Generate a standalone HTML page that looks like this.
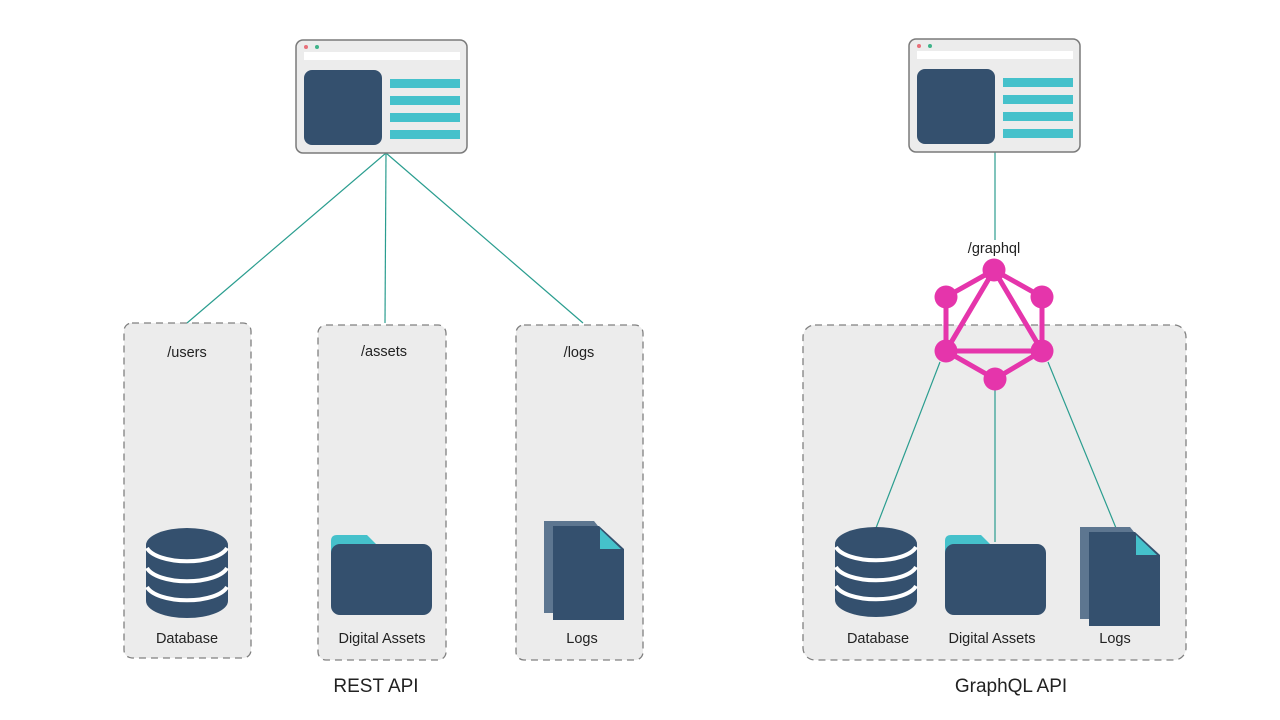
<!DOCTYPE html>
<html><head><meta charset="utf-8"><style>
html,body{margin:0;padding:0;background:#fff;}
svg{display:block;}
text{font-family:"Liberation Sans","DejaVu Sans",sans-serif;fill:#222;}
</style></head><body>
<svg width="1280" height="720" viewBox="0 0 1280 720" xmlns="http://www.w3.org/2000/svg">
<defs>
<g id="win">
  <rect x="0" y="0" width="171" height="113" rx="7" fill="#ececec" stroke="#7a7a7a" stroke-width="1.5"/>
  <circle cx="10" cy="7" r="2" fill="#e8707a"/>
  <circle cx="21" cy="7" r="2" fill="#3fb38a"/>
  <rect x="8" y="12" width="156" height="8" fill="#fff"/>
  <rect x="8" y="30" width="78" height="75" rx="8" fill="#34506e"/>
  <rect x="94" y="39" width="70" height="9" fill="#45c1cb"/>
  <rect x="94" y="56" width="70" height="9" fill="#45c1cb"/>
  <rect x="94" y="73" width="70" height="9" fill="#45c1cb"/>
  <rect x="94" y="90" width="70" height="9" fill="#45c1cb"/>
</g>
<g id="db">
  <path d="M-41,0 V56 A41,17 0 0 0 41,56 V0 Z" fill="#34506e"/>
  <ellipse cx="0" cy="0" rx="41" ry="17" fill="#34506e"/>
  <path d="M-40,3 A41,17 0 0 0 40,3" fill="none" stroke="#fff" stroke-width="4"/>
  <path d="M-40,23 A41,17 0 0 0 40,23" fill="none" stroke="#fff" stroke-width="4"/>
  <path d="M-40,42 A41,17 0 0 0 40,42" fill="none" stroke="#fff" stroke-width="4"/>
</g>
<g id="folder">
  <path d="M0,14 V6 Q0,0 6,0 H36 L46,10 V20 H0 Z" fill="#45c1cb"/>
  <rect x="0" y="9" width="101" height="71" rx="9" fill="#34506e"/>
</g>
<g id="logs">
  <path d="M0,0 H50 L54,5 V92 H0 Z" fill="#5d7690"/>
  <path d="M9,5 H55 L80,28 V99 H9 Z" fill="#34506e"/>
  <path d="M56,8 L77,28 H56 Z" fill="#45c1cb"/>
</g>
</defs>

<rect x="124" y="323" width="127" height="335" rx="8" fill="#ececec" stroke="#808080" stroke-width="1.3" stroke-dasharray="7,5"/>
<rect x="318" y="325" width="128" height="335" rx="8" fill="#ececec" stroke="#808080" stroke-width="1.3" stroke-dasharray="7,5"/>
<rect x="516" y="325" width="127" height="335" rx="8" fill="#ececec" stroke="#808080" stroke-width="1.3" stroke-dasharray="7,5"/>
<rect x="803" y="325" width="383" height="335" rx="12" fill="#ececec" stroke="#808080" stroke-width="1.3" stroke-dasharray="7,5"/>

<g stroke="#2a9d8f" stroke-width="1.2">
  <line x1="386" y1="153" x2="187" y2="323"/>
  <line x1="386" y1="153" x2="385" y2="323"/>
  <line x1="386" y1="153" x2="583" y2="323"/>
  <line x1="995" y1="152" x2="995" y2="240"/>
  <line x1="940" y1="362" x2="876" y2="528"/>
  <line x1="995" y1="385" x2="995" y2="542"/>
  <line x1="1048" y1="362" x2="1116" y2="528"/>
</g>

<use href="#win" x="296" y="40"/>
<use href="#win" x="909" y="39"/>

<g stroke="#e535ab" stroke-width="5" fill="none">
  <polygon points="994,270 1042,297 1042,351 995,379 946,351 946,297"/>
  <polygon points="994,270 1042,351 946,351"/>
</g>
<g fill="#e535ab">
  <circle cx="994" cy="270" r="11.5"/>
  <circle cx="1042" cy="297" r="11.5"/>
  <circle cx="946" cy="297" r="11.5"/>
  <circle cx="946" cy="351" r="11.5"/>
  <circle cx="1042" cy="351" r="11.5"/>
  <circle cx="995" cy="379" r="11.5"/>
</g>

<use href="#db" x="187" y="545"/>
<use href="#folder" x="331" y="535"/>
<use href="#logs" x="544" y="521"/>
<use href="#db" x="876" y="544"/>
<use href="#folder" x="945" y="535"/>
<use href="#logs" x="1080" y="527"/>

<g font-size="14.5" text-anchor="middle">
  <text x="187" y="357">/users</text>
  <text x="384" y="356">/assets</text>
  <text x="579" y="357">/logs</text>
  <text x="994" y="253">/graphql</text>
  <text x="187" y="643">Database</text>
  <text x="382" y="643">Digital Assets</text>
  <text x="582" y="643">Logs</text>
  <text x="878" y="643">Database</text>
  <text x="992" y="643">Digital Assets</text>
  <text x="1115" y="643">Logs</text>
</g>
<g font-size="19" text-anchor="middle">
  <text x="376" y="692">REST API</text>
  <text x="1011" y="692">GraphQL API</text>
</g>
</svg>
</body></html>
